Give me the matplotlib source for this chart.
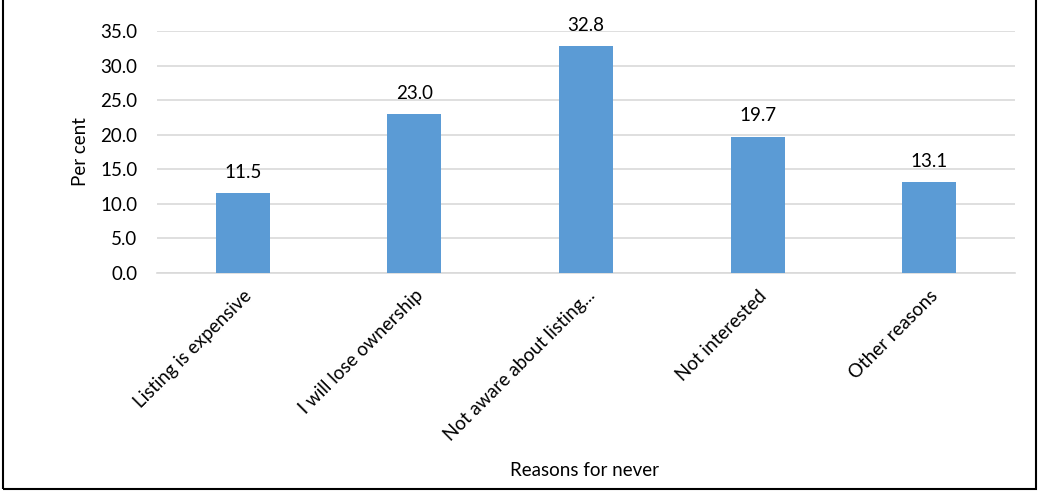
import matplotlib.pyplot as plt
from matplotlib.patches import Rectangle

reasons = ['Listing is expensive', 'I will lose ownership', 'Not aware about listing...',
           'Not interested', 'Other reasons']
percent = [11.5, 23.0, 32.8, 19.7, 13.1]
yticks = [0, 5, 10, 15, 20, 25, 30, 35]

plt.rcParams['font.family'] = ['Lato', 'DejaVu Sans']
fs = 13.5

fig = plt.figure(figsize=(10.46, 4.91), dpi=100)
ax = fig.add_axes([157 / 1046, 1 - 273 / 491, (1015 - 157) / 1046, (273 - 31) / 491])

x = range(len(reasons))
bars = ax.bar(x, percent, width=0.315, color='#5B9BD5', zorder=3)
for b, v in zip(bars, percent):
    ax.text(b.get_x() + b.get_width() / 2, v + 1.8, f'{v:.1f}',
            ha='center', va='bottom', fontsize=fs, color='#000000')

ax.set_xlim(-0.5, len(reasons) - 0.5)
ax.set_ylim(0, 35)
ax.set_yticks(yticks)
ax.set_yticklabels([f'{t:.1f}' for t in yticks], fontsize=fs)
ax.set_xticks(list(x))
ax.set_xticklabels(reasons, rotation=45, ha='right', rotation_mode='anchor', fontsize=fs)
ax.tick_params(axis='y', length=0, pad=14)
ax.tick_params(axis='x', length=0, pad=10)
ax.grid(axis='y', color='#D9D9D9', linewidth=1.2, zorder=0)
for s in ['top', 'right', 'left']:
    ax.spines[s].set_visible(False)
ax.spines['bottom'].set_color('#D9D9D9')
ax.spines['bottom'].set_linewidth(1.2)

ax.set_ylabel('Per cent', fontsize=fs, labelpad=8)
fig.text(585 / 1046, 1 - 470 / 491, 'Reasons for never', ha='center', va='center', fontsize=fs)

# outer frame
fig.patches.append(Rectangle((3 / 1046, 2 / 491), 1033 / 1046, 520 / 491,
                             transform=fig.transFigure, fill=False,
                             edgecolor='black', linewidth=1.5))

fig.savefig('out.png', dpi=100)
